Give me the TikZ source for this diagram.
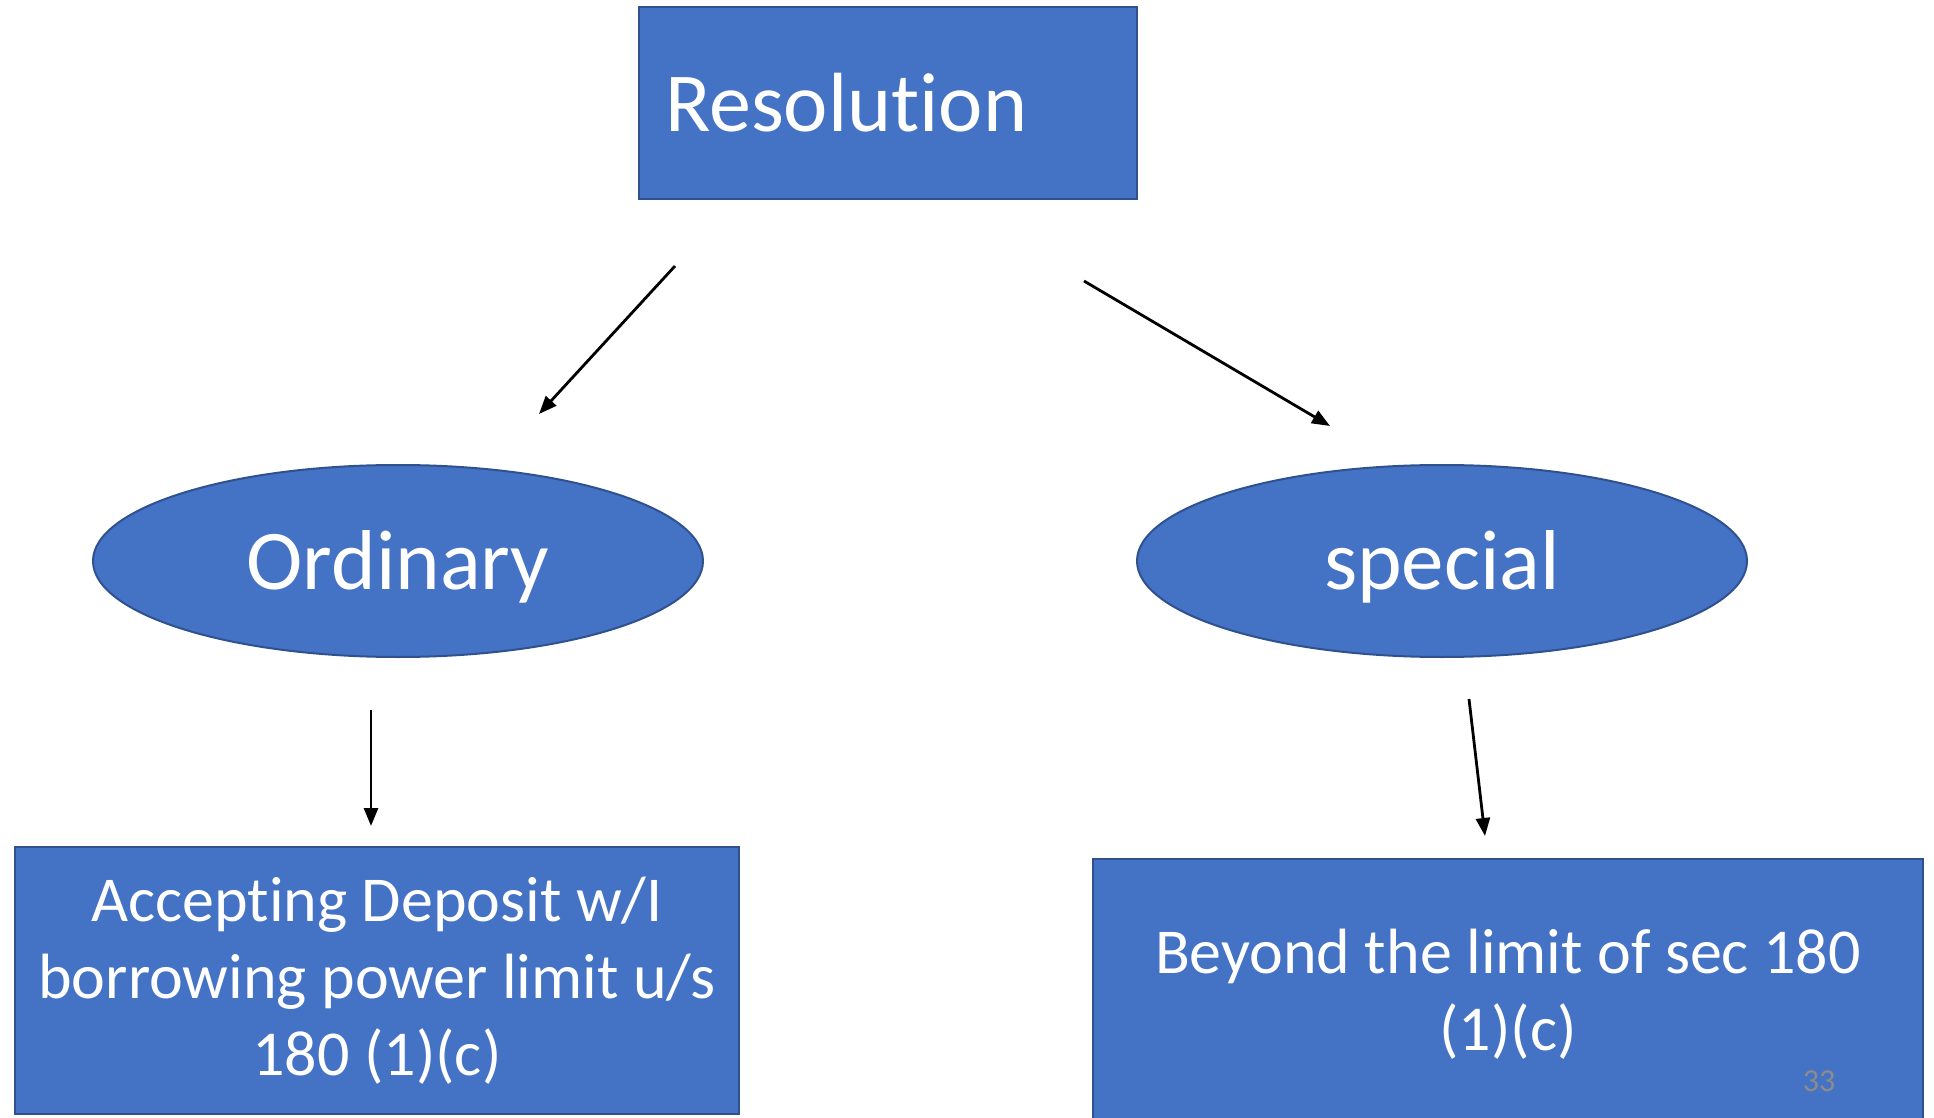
\documentclass[tikz,border=0pt]{standalone}
\usepackage{fontspec}
\setmainfont[Ligatures={NoCommon}]{Carlito}
\usetikzlibrary{arrows.meta,shapes.geometric,positioning}
\definecolor{boxblue}{HTML}{4472C4}
\definecolor{edgeblue}{HTML}{2F528F}
\definecolor{pagenum}{HTML}{8C8C8C}
\tikzset{
  bluebox/.style={draw=edgeblue, line width=1pt, fill=boxblue, text=white, inner sep=0pt},
  blueoval/.style={ellipse, draw=edgeblue, line width=1pt, fill=boxblue, text=white,
    minimum width=305pt, minimum height=96pt, font=\fontsize{42.5}{50}\selectfont},
  arr/.style={line width=1.4pt, -{Triangle[length=9pt,width=7pt]}}
}
\newcommand{\lowered}[1]{\raisebox{-3pt}[\height][\depth]{#1}}

\begin{document}
\begin{tikzpicture}[x=0.5pt,y=-0.5pt]
    \useasboundingbox (0,0) rectangle (1934,1118);
    \node[bluebox, minimum width=249pt, minimum height=96pt, text width=223pt, inner xsep=13pt,
      align=left, font=\fontsize{42}{50}\selectfont] (res) at (888,103) {Resolution};
    \node[blueoval] (ord) at (398,561) {\lowered{Ordinary}};
    \node[blueoval] (spec) at (1442,561) {\lowered{special}};
    \node[bluebox, minimum width=362pt, minimum height=133.5pt, align=center,
      font=\fontsize{32}{38.5}\selectfont] (ordtxt) at (377,980.5)
      {Accepting Deposit w/I\\borrowing power limit u/s\\180 (1)(c)};
    \node[bluebox, minimum width=415pt, minimum height=135pt, align=center,
      font=\fontsize{32}{38.5}\selectfont] (spectxt) at (1508,994)
      {Beyond the limit of sec 180\\(1)(c)};
    \node[text=pagenum, font=\fontsize{16}{16}\selectfont] (pg) at (1819,1081) {33};
    \coordinate (a1) at (675,266);
    \coordinate (b1) at (539,414);
    \coordinate (a2) at (1084,281);
    \coordinate (b2) at (1330,426);
    \coordinate (a3) at (371,710);
    \coordinate (b3) at (371,826);
    \coordinate (a4) at (1469,699);
    \coordinate (b4) at (1485,836);
    \draw[arr] (a1) -- (b1);
    \draw[arr] (a2) -- (b2);
    \draw[arr] (a3) -- (b3);
    \draw[arr] (a4) -- (b4);
\end{tikzpicture}
\end{document}
